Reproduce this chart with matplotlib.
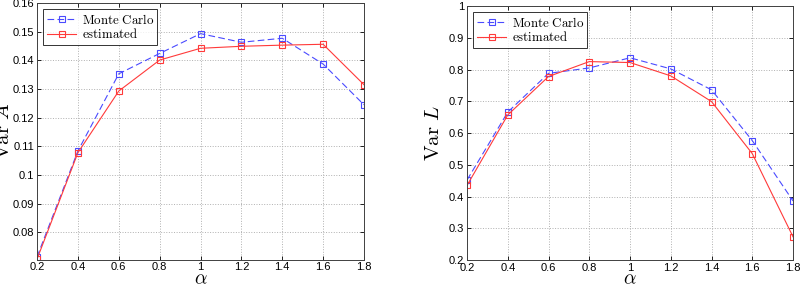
import numpy as np
import matplotlib
matplotlib.use('Agg')
import matplotlib.pyplot as plt

plt.rcParams['font.family'] = ['Liberation Sans', 'DejaVu Sans']
plt.rcParams['mathtext.fontset'] = 'cm'

# alpha values
alpha = [0.2, 0.4, 0.6, 0.8, 1.0, 1.2, 1.4, 1.6, 1.8]

# Var A
varA_mc = [0.0715, 0.1084, 0.1353, 0.1424, 0.1493, 0.1463, 0.1477, 0.1387, 0.1245]
varA_est = [0.0707, 0.1078, 0.1293, 0.1401, 0.1442, 0.1449, 0.1453, 0.1456, 0.1315]

# Var L
varL_mc = [0.452, 0.666, 0.788, 0.805, 0.837, 0.802, 0.736, 0.576, 0.386]
varL_est = [0.435, 0.657, 0.778, 0.825, 0.822, 0.780, 0.699, 0.535, 0.273]

blue = '#4a4aff'
red = '#ff3a3a'

fig = plt.figure(figsize=(8, 2.86), dpi=100)
ax1 = fig.add_axes([0.0463, 0.092, 0.4087, 0.8976])
ax2 = fig.add_axes([0.5838, 0.0909, 0.4075, 0.888])

panels = [
    (ax1, varA_mc, varA_est, (0.0705, 0.16), np.arange(0.08, 0.1601, 0.01), r'$\mathrm{Var}\ A$'),
    (ax2, varL_mc, varL_est, (0.2, 1.0), np.arange(0.2, 1.001, 0.1), r'$\mathrm{Var}\ L$'),
]

for ax, mc, est, ylim, yticks, ylab in panels:
    ax.plot(alpha, mc, '--s', color=blue, lw=0.8, ms=4.2, mfc='none', mew=0.8,
            dashes=(6, 3), label=r'$\mathrm{Monte\ Carlo}$')
    ax.plot(alpha, est, '-s', color=red, lw=0.8, ms=4.2, mfc='none', mew=0.8,
            label=r'$\mathrm{estimated}$')
    ax.set_xlim(0.2, 1.8)
    ax.set_ylim(*ylim)
    ax.set_xticks(np.arange(0.2, 1.801, 0.2))
    ax.set_xticklabels(['0.2', '0.4', '0.6', '0.8', '1', '1.2', '1.4', '1.6', '1.8'])
    ax.set_yticks(yticks)
    ax.set_yticklabels(['%g' % round(v, 2) for v in yticks])
    ax.tick_params(labelsize=8, direction='in', length=3, width=0.6, top=True, right=True, pad=2)
    ax.grid(True, linestyle=':', color='#b0b0b0', lw=0.7)
    for s in ax.spines.values():
        s.set_linewidth(0.7)
        s.set_color('#404040')
    ax.set_xlabel(r'$\alpha$', fontsize=14)
    ax.xaxis.set_label_coords(0.5, -0.045)
    ax.set_ylabel(ylab, fontsize=15)
    ax.yaxis.set_label_coords(-0.075, 0.5)
    leg = ax.legend(loc='upper left', fontsize=9.3, frameon=True, fancybox=False,
                    edgecolor='black', handlelength=2.3, borderpad=0.25, labelspacing=0.05,
                    handletextpad=0.4, borderaxespad=0.5)
    leg.get_frame().set_linewidth(0.7)

fig.savefig('out.png', dpi=100)
